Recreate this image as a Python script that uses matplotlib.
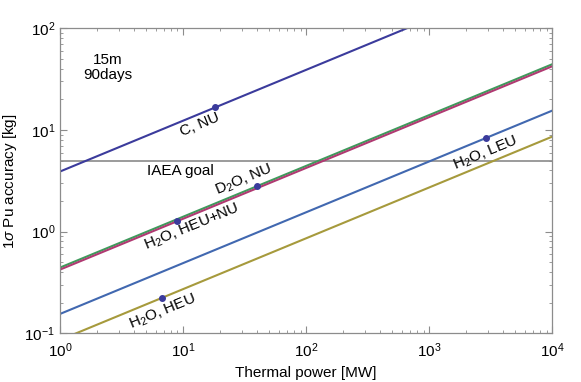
import matplotlib
matplotlib.use("Agg")
import matplotlib.pyplot as plt
import numpy as np

plt.rcParams['font.family'] = ['Liberation Sans', 'DejaVu Sans']
plt.rcParams['mathtext.fontset'] = 'custom'
plt.rcParams['mathtext.rm'] = 'Liberation Sans'
plt.rcParams['mathtext.it'] = 'Liberation Sans:italic'
plt.rcParams['mathtext.bf'] = 'Liberation Sans:bold'

# accuracy at 1 MW [kg]; scales with sqrt(power)
series_names = ['C, NU', 'D2O, NU', 'H2O, HEU+NU', 'H2O, LEU', 'H2O, HEU']
series_coef = [3.9, 0.443, 0.423, 0.155, 0.086]
series_colors = ['#3b3b9c', '#3f9a5c', '#b03a72', '#4168b0', '#a69a3c']

# reactor points (power in MW)
point_power = [18.2, 40.1, 8.92, 2890.0, 6.70]
point_series = [0, 1, 2, 3, 4]

# labels: text, power, value
label_text = ['C, NU', 'D$_2$O, NU', 'H$_2$O, HEU+NU', 'H$_2$O, LEU', 'H$_2$O, HEU']
label_power = [13.7, 31.0, 11.8, 2836.0, 6.87]
label_value = [11.2, 3.25, 1.1, 5.94, 0.162]

iaea_goal = 4.9
power_range = (1.0, 1.0e4)
acc_range = (0.1, 100.0)

fig = plt.figure(figsize=(5.81, 3.82), dpi=100)
ax = fig.add_axes([0.1033, 0.1275, 0.9506 - 0.1033, 0.926 - 0.1275])

ps = np.geomspace(power_range[0], power_range[1], 400)
for coef, col in zip(series_coef, series_colors):
    ax.plot(ps, coef * np.sqrt(ps), color=col, lw=1.5, zorder=2)

ax.axhline(iaea_goal, color='#808080', lw=1.1, zorder=1)

for p, s in zip(point_power, point_series):
    ax.plot(p, series_coef[s] * np.sqrt(p), 'o', color='#3b3b9c', ms=4, zorder=3)

for txt, p, v in zip(label_text, label_power, label_value):
    ax.text(p, v, txt, rotation=22.4, ha='center', va='center', fontsize=11,
            rotation_mode='anchor')

ax.text(9.45, 3.95, 'IAEA goal', ha='center', va='center', fontsize=11)
ax.text(2.45, 41.2, '15m\n90days', ha='center', va='center', fontsize=11, linespacing=1.05)

ax.set_xscale('log')
ax.set_yscale('log')
ax.set_xlim(*power_range)
ax.set_ylim(*acc_range)
ax.set_xlabel('Thermal power [MW]', fontsize=11, labelpad=4)
ax.set_ylabel(r'1$\sigma$ Pu accuracy [kg]', fontsize=11, labelpad=4)

for sp in ax.spines.values():
    sp.set_color('#8c8c8c')
    sp.set_linewidth(0.9)
ax.tick_params(which='both', direction='in', top=True, right=True, color='#8c8c8c',
               labelsize=11)
ax.tick_params(which='major', length=5, width=0.8)
ax.tick_params(which='minor', length=2.5, width=0.6)
ax.tick_params(axis='x', pad=6)

fig.savefig('out.png', dpi=100)
